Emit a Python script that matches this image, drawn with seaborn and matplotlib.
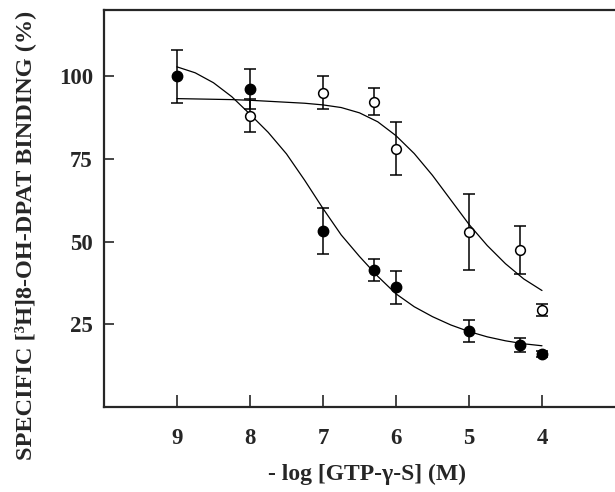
import numpy as np
import pandas as pd
import matplotlib
matplotlib.use("Agg")
import matplotlib.pyplot as plt
import seaborn as sns

# measured points: -log[GTP-y-S] vs specific binding (%)
x_filled = [9, 8, 7, 6.3, 6, 5, 4.3, 4]
y_filled = [100, 96.2, 53.2, 41.4, 36.2, 23.0, 18.7, 16.0]
e_filled = [8, 6, 7, 3.3, 5, 3.3, 2, 1]

x_open = [8, 7, 6.3, 6, 5, 4.3, 4]
y_open = [88, 95, 92.3, 78, 53, 47.4, 29.3]
e_open = [5, 5, 4, 8, 11.5, 7.3, 1.7]

# fitted curves
curve_x = [9, 8.75, 8.5, 8.25, 8, 7.75, 7.5, 7.25, 7, 6.75, 6.5,
           6.25, 6, 5.75, 5.5, 5.25, 5, 4.75, 4.5, 4.25, 4]
curve_filled = [102.8, 101, 98, 93.8, 88.5, 83, 76.5, 68.5, 60, 52, 45.5,
                39.5, 34.2, 30.3, 27.3, 24.8, 22.8, 21.2, 20.0, 19.1, 18.5]
curve_open = [93.2, 93.1, 93.0, 92.9, 92.7, 92.4, 92.1, 91.8, 91.3, 90.5, 88.9,
              86.2, 82.0, 76.6, 70.0, 62.6, 55.2, 48.8, 43.3, 38.7, 35.2]

xticks = [9, 8, 7, 6, 5, 4]
yticks = [25, 50, 75, 100]

sns.set_style("ticks")
plt.rcParams["font.family"] = ["Liberation Serif", "DejaVu Serif"]
plt.rcParams["font.weight"] = "bold"

fig = plt.figure(figsize=(6.15, 4.92), dpi=100)
ax = fig.add_axes([0.169, 0.1728, 0.831, 0.807])

curves = pd.DataFrame({"x": curve_x + curve_x,
                       "y": curve_filled + curve_open,
                       "set": ["filled"] * len(curve_x) + ["open"] * len(curve_x)})
sns.lineplot(data=curves, x="x", y="y", units="set", estimator=None,
             color="black", lw=0.9, sort=False, ax=ax, legend=False)

ax.errorbar(x_filled, y_filled, yerr=e_filled, fmt="o", color="black",
            mfc="black", mec="black", ms=7.5, elinewidth=1.1, capsize=4.2,
            capthick=1.1, zorder=3)
ax.errorbar(x_open, y_open, yerr=e_open, fmt="o", color="black",
            mfc="white", mec="black", mew=1.1, ms=7, elinewidth=1.1,
            capsize=4.2, capthick=1.1, zorder=3)

ax.set_xlim(10, 3.0)
ax.set_ylim(0, 120)
ax.set_xticks(xticks)
ax.set_yticks(yticks)
ax.tick_params(axis="x", direction="in", length=9, width=1.2, pad=15,
               labelsize=16.5)
ax.tick_params(axis="y", direction="in", length=7, width=1.2, pad=8,
               labelsize=16.5)
for lab in ax.get_xticklabels() + ax.get_yticklabels():
    lab.set_fontweight("bold")

ax.spines["right"].set_visible(False)
for s in ["left", "top", "bottom"]:
    ax.spines[s].set_linewidth(1.6)

ax.set_xlabel("- log [GTP-γ-S] (M)", fontsize=17, fontweight="bold")
ax.set_ylabel("SPECIFIC [³H]8-OH-DPAT BINDING (%)", fontsize=17.5,
              fontweight="bold")
ax.xaxis.set_label_coords(0.515, -0.1436)
ax.yaxis.set_label_coords(-0.133, 0.433)

plt.savefig("out.png", dpi=100)
